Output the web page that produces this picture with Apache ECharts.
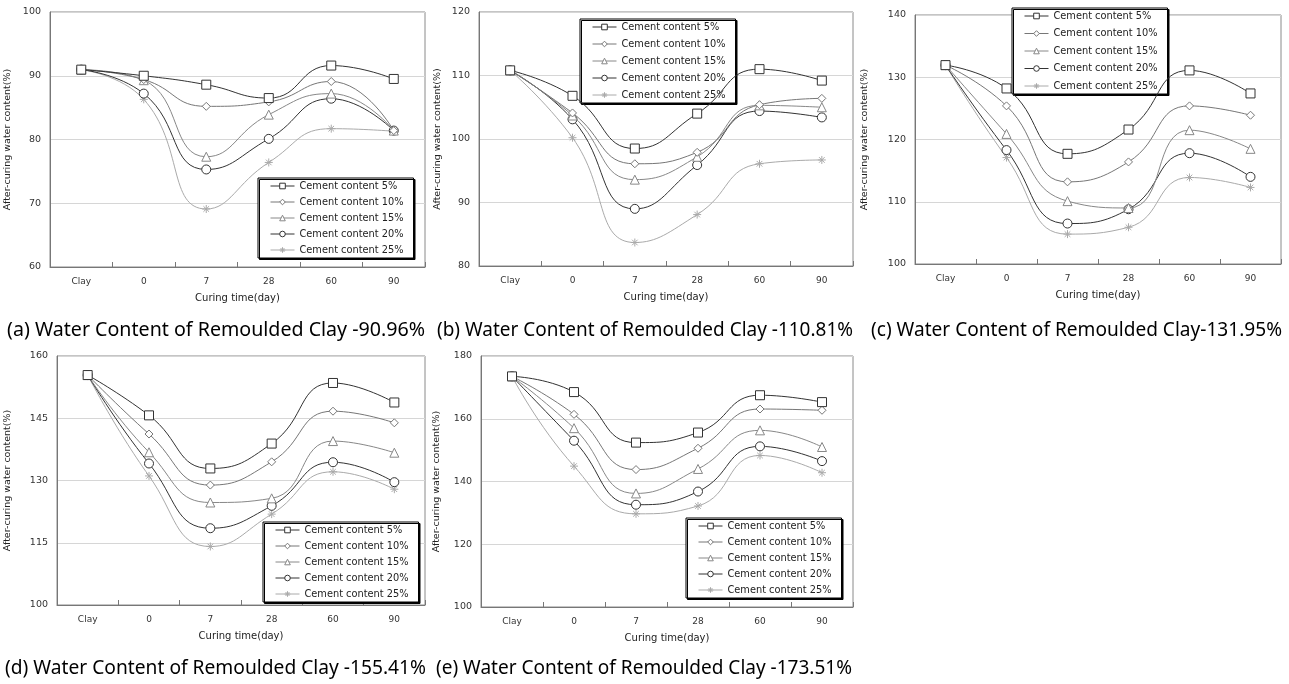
<!DOCTYPE html>
<html><head><meta charset="utf-8">
<script src="https://cdn.jsdelivr.net/npm/echarts@6/dist/echarts.min.js"></script>
<style>html,body{margin:0;padding:0;background:#fff}#c{width:1289px;height:684px}</style>
</head><body><div id="c"></div>
<script>
var categories = ['Clay', '0', '7', '28', '60', '90'];
var seriesNames = ['Cement content 5%', 'Cement content 10%', 'Cement content 15%', 'Cement content 20%', 'Cement content 25%'];

var a5  = [90.96, 90.0, 88.6, 86.5, 91.6, 89.5];
var a10 = [90.96, 89.4, 85.2, 85.9, 89.1, 81.4];
var a15 = [90.96, 89.3, 77.3, 83.9, 87.2, 81.4];
var a20 = [90.96, 87.2, 75.3, 80.1, 86.4, 81.4];
var a25 = [90.96, 86.3, 69.1, 76.4, 81.7, 81.3];

var b5  = [110.81, 106.8, 98.5, 104.0, 111.0, 109.2];
var b10 = [110.81, 104.1, 96.1, 97.9, 105.4, 106.4];
var b15 = [110.81, 103.7, 93.6, 97.2, 105.3, 105.0];
var b20 = [110.81, 103.1, 89.0, 95.9, 104.4, 103.4];
var b25 = [110.81, 100.2, 83.7, 88.1, 96.1, 96.7];

var c5  = [131.95, 128.2, 117.7, 121.6, 131.1, 127.4];
var c10 = [131.95, 125.4, 113.2, 116.4, 125.4, 123.9];
var c15 = [131.95, 120.9, 110.1, 109.0, 121.5, 118.5];
var c20 = [131.95, 118.3, 106.5, 108.8, 117.8, 114.0];
var c25 = [131.95, 117.1, 104.8, 105.9, 113.9, 112.3];

var d5  = [155.41, 145.7, 132.9, 138.9, 153.5, 148.8];
var d10 = [155.41, 141.2, 128.9, 134.5, 146.7, 143.9];
var d15 = [155.41, 136.8, 124.7, 125.7, 139.5, 136.7];
var d20 = [155.41, 134.1, 118.5, 123.9, 134.4, 129.6];
var d25 = [155.41, 131.1, 114.1, 121.9, 132.1, 127.9];

var e5  = [173.51, 168.5, 152.4, 155.6, 167.5, 165.3];
var e10 = [173.51, 161.4, 143.8, 150.6, 163.1, 162.7];
var e15 = [173.51, 157.0, 136.2, 144.0, 156.3, 151.0];
var e20 = [173.51, 153.0, 132.6, 136.8, 151.2, 146.5];
var e25 = [173.51, 144.9, 129.7, 132.2, 148.3, 142.8];

var yRanges = [[60, 100, 10], [80, 120, 10], [100, 140, 10], [100, 160, 15], [100, 180, 20]];
var captions = [
  '(a) Water Content of Remoulded Clay -90.96%',
  '(b) Water Content of Remoulded Clay -110.81%',
  '(c) Water Content of Remoulded Clay-131.95%',
  '(d) Water Content of Remoulded Clay -155.41%',
  '(e) Water Content of Remoulded Clay -173.51%'
];
var xTitle = 'Curing time(day)';
var yTitle = 'After-curing water content(%)';

var panelData = [[a5, a10, a15, a20, a25], [b5, b10, b15, b20, b25], [c5, c10, c15, c20, c25], [d5, d10, d15, d20, d25], [e5, e10, e15, e20, e25]];

// layout
var grids = [
  {left: 50, top: 12, width: 375, height: 255},
  {left: 479, top: 12, width: 374, height: 254},
  {left: 915, top: 15, width: 366, height: 249},
  {left: 57, top: 356, width: 368, height: 249},
  {left: 481, top: 356, width: 372, height: 251}
];
var yNameGaps = [37, 36, 45, 44, 39];
var legendPos = [[258, 178], [580, 19], [1012, 8], [263, 522], [686, 518]];
var legendGaps = [5.5, 6.5, 7, 5.5, 5.5];
var capPos = [[7, 330, 418], [437, 330, 416], [871, 330, 411], [5, 668, 421], [436, 668, 416]];

var star = 'path://M0,5L10,5M5,0L5,10M1.5,1.5L8.5,8.5M8.5,1.5L1.5,8.5';
var styles = [
  {symbol: 'rect', size: 9, color: '#333'},
  {symbol: 'diamond', size: 8, color: '#777'},
  {symbol: 'triangle', size: 9, color: '#888'},
  {symbol: 'circle', size: 9, color: '#333'},
  {symbol: star, size: 8, color: '#aaa'}
];

var FONT = 'DejaVu Sans';
var option = {
  animation: false,
  backgroundColor: '#fff',
  grid: [], xAxis: [], yAxis: [], series: [], legend: [], graphic: []
};

var legendData = seriesNames.map(function (n, i) {
  return {
    name: n,
    itemStyle: {color: '#fff', borderColor: styles[i].color, borderWidth: 1},
    lineStyle: {color: styles[i].color, width: 1}
  };
});

for (var p = 0; p < 5; p++) {
  var g = grids[p];
  option.grid.push({left: g.left, top: g.top, width: g.width, height: g.height, show: true, borderColor: '#8a8a8a', borderWidth: 1, backgroundColor: 'transparent'});
  option.xAxis.push({
    type: 'category', gridIndex: p, data: categories, boundaryGap: true,
    axisLine: {lineStyle: {color: '#777'}},
    axisTick: {show: true, inside: true, length: 5, lineStyle: {color: '#777'}},
    axisLabel: {fontFamily: FONT, fontSize: 9, color: '#333', margin: 10},
    name: xTitle, nameLocation: 'middle', nameGap: 26,
    nameTextStyle: {fontFamily: FONT, fontSize: 10, color: '#222'}
  });
  var yr = yRanges[p];
  option.yAxis.push({
    type: 'value', gridIndex: p, min: yr[0], max: yr[1], interval: yr[2],
    axisLine: {show: true, lineStyle: {color: '#777'}},
    axisTick: {show: false},
    splitLine: {show: true, lineStyle: {color: '#d6d6d6'}},
    axisLabel: {fontFamily: FONT, fontSize: 9.5, color: '#333', margin: 9},
    name: yTitle, nameLocation: 'middle', nameGap: yNameGaps[p], nameRotate: 90,
    nameTextStyle: {fontFamily: FONT, fontSize: 9.5, color: '#222'}
  });
  for (var s = 0; s < 5; s++) {
    var st = styles[s];
    option.series.push({
      type: 'line', name: seriesNames[s], xAxisIndex: p, yAxisIndex: p,
      data: panelData[p][s], smooth: 0.5,
      symbol: st.symbol, symbolSize: st.size,
      lineStyle: {color: st.color, width: 1},
      itemStyle: {color: '#fff', borderColor: st.color, borderWidth: 1},
      z: 10 - s
    });
  }
  option.legend.push({
    orient: 'vertical', left: legendPos[p][0], top: legendPos[p][1],
    data: legendData,
    backgroundColor: '#fff', borderColor: '#000', borderWidth: 1,
    shadowColor: '#000', shadowBlur: 0, shadowOffsetX: 1.5, shadowOffsetY: 1.5,
    padding: [3, 10, 3, 12], itemGap: legendGaps[p] + 0.5, itemWidth: 24, itemHeight: 7,
    textStyle: {fontFamily: FONT, fontSize: 9.8, color: '#222'},
    selectedMode: false
  });
}

// captions
var cv = document.createElement('canvas').getContext('2d');
var capFont = '20px "Noto Sans"';
cv.font = capFont;
for (var k = 0; k < 5; k++) {
  var w = cv.measureText(captions[k]).width;
  var sx = capPos[k][2] / w;
  option.graphic.push({
    type: 'text', x: capPos[k][0], y: capPos[k][1], scaleX: sx,
    style: {text: captions[k], font: capFont, fill: '#000', verticalAlign: 'middle', align: 'left'}
  });
}

var chart = echarts.init(document.getElementById('c'), null, {renderer: 'canvas'});
chart.setOption(option);
</script></body></html>
